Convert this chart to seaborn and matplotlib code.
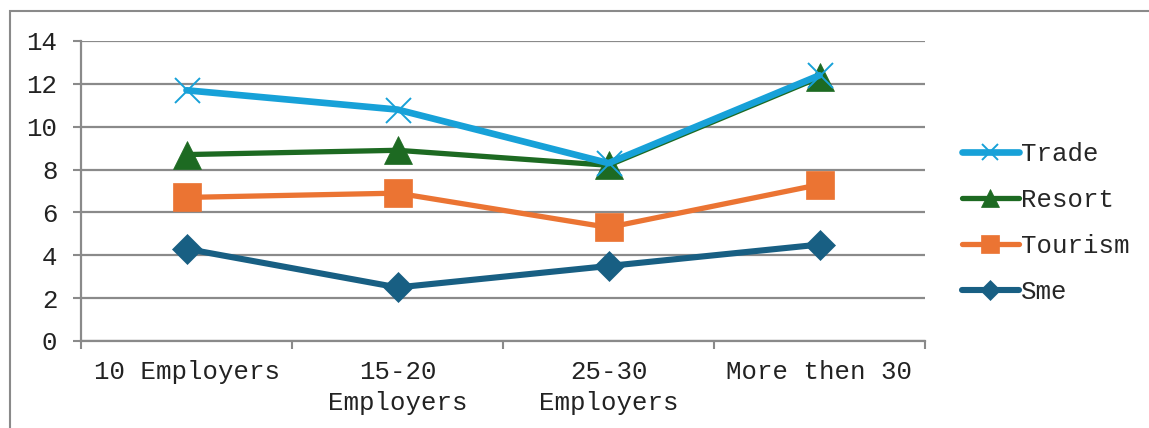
import matplotlib
matplotlib.use("Agg")
import matplotlib.pyplot as plt
import matplotlib.patches as mpatches
import seaborn as sns
import pandas as pd

categories = ["10 Employers", "15-20 Employers", "25-30 Employers", "More then 30"]
tick_labels = ["10 Employers", "15-20\nEmployers", "25-30\nEmployers", "More then 30"]
trade = [11.7, 10.8, 8.3, 12.4]
resort = [8.7, 8.9, 8.2, 12.3]
tourism = [6.7, 6.9, 5.3, 7.3]
sme = [4.3, 2.5, 3.5, 4.5]
y_ticks = [0, 2, 4, 6, 8, 10, 12, 14]

sns.set_theme(style="white")
plt.rcParams['font.family'] = ['Liberation Mono', 'DejaVu Sans']
FS = 18.5
GRID = '#8a8a8a'

fig = plt.figure(figsize=(11.49, 4.28), dpi=100)
ax = fig.add_axes([81/1149, 1-341/428, (925-81)/1149, 300/428])

# outer chart border (cropped on right/bottom)
fig.patches.append(mpatches.Rectangle((9.5/1149, -0.1), 1.2, 1-11/428+0.1,
                                      transform=fig.transFigure, fill=False,
                                      edgecolor=GRID, linewidth=1.5, zorder=0))

series = [
    ("Sme", sme, '#185f83', 'D', 4.4, 15, None),
    ("Tourism", tourism, '#eb7433', 's', 3.8, 20.5, None),
    ("Resort", resort, '#1d6a22', '^', 3.8, 20, None),
    ("Trade", trade, '#17a1d8', 'x', 4.8, 18, 1.4),
]
for name, vals, col, mk, lw, ms, mew in series:
    df = pd.DataFrame({"cat": categories, "val": vals})
    kw = dict(markeredgewidth=mew if mew else 0.5, markeredgecolor=col)
    sns.lineplot(data=df, x="cat", y="val", ax=ax, color=col, linewidth=lw,
                 marker=mk, markersize=ms, label=name, sort=False,
                 solid_capstyle='round', **kw)

ax.set_xlim(-0.5, 3.5)
ax.set_ylim(0, 14)
ax.set_yticks(y_ticks)
ax.set_yticklabels([str(t) for t in y_ticks], fontsize=FS, color='#222222')
ax.set_xticks(range(len(categories)))
ax.set_xticklabels(tick_labels, fontsize=FS, color='#222222', linespacing=1.35)
ax.set_xticks([-0.5, 0.5, 1.5, 2.5, 3.5], minor=True)
ax.tick_params(axis='x', which='major', length=0, pad=14)
ax.tick_params(axis='x', which='minor', length=6, width=1.5, color=GRID, direction='out', bottom=True)
ax.tick_params(axis='y', length=6, width=1.5, color=GRID, direction='out', pad=11, left=True)
ax.set_xlabel("")
ax.set_ylabel("")
ax.yaxis.grid(True, color=GRID, linewidth=1.6)
ax.xaxis.grid(False)
ax.set_axisbelow(True)
for s in ['top', 'right']:
    ax.spines[s].set_visible(False)
for s in ['left', 'bottom']:
    ax.spines[s].set_color(GRID)
    ax.spines[s].set_linewidth(1.6)

h, l = ax.get_legend_handles_labels()
ax.get_legend().remove()
order = ["Trade", "Resort", "Tourism", "Sme"]
hd = dict(zip(l, h))
fig.legend([hd[o] for o in order], order, loc='center left',
           bbox_to_anchor=(962/1149, 1-223/428), frameon=False, fontsize=FS,
           handlelength=2.2, handletextpad=0.1, labelspacing=0.86,
           borderpad=0, borderaxespad=0, markerscale=0.65)

fig.savefig("out.png", dpi=100)
